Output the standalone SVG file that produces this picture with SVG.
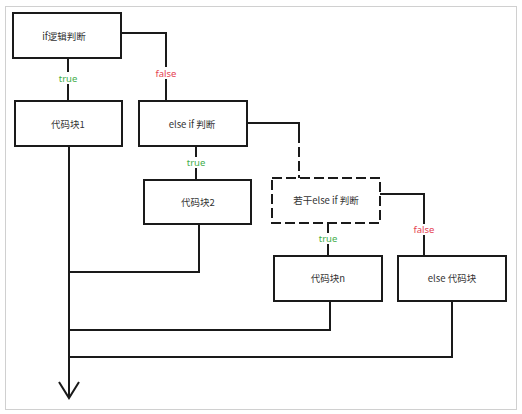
<svg xmlns="http://www.w3.org/2000/svg" width="522" height="414" viewBox="0 0 522 414">
<style>
.box{fill:#fff;stroke:#1a1a1a;stroke-width:2}
.dash{stroke-dasharray:10 4}
.ln{fill:none;stroke:#1a1a1a;stroke-width:2}
.t{font-family:"Noto Sans CJK SC","Noto Sans",sans-serif;font-size:9.5px;fill:#333;text-anchor:middle;dominant-baseline:central}
.tr{font-family:"Noto Sans","Noto Sans CJK SC",sans-serif;font-size:9.5px;fill:#3fae49;text-anchor:middle;dominant-baseline:central}
.fa{font-family:"Noto Sans","Noto Sans CJK SC",sans-serif;font-size:9.5px;fill:#e53e50;text-anchor:middle;dominant-baseline:central}
</style>
<rect x="5.5" y="6.5" width="511" height="403" fill="#fff" stroke="#d0d0d0" stroke-width="1"/>
<g id="connectors">
<path class="ln" d="M68 58V72M68 84V101"/>
<text class="tr" x="68" y="78">true</text>
<path class="ln" d="M121 33H166V67M166 79V101"/>
<text class="fa" x="166" y="73">false</text>
<path class="ln" d="M196 146V157M196 168V180"/>
<text class="tr" x="196" y="162">true</text>
<path class="ln" d="M247 123H299V133"/>
<path class="ln" stroke-dasharray="10 4" d="M299 133V178"/>
<path class="ln" d="M380 194H424V224M424 235V256"/>
<text class="fa" x="424" y="229">false</text>
<path class="ln" d="M328 223V233M328 244V256"/>
<text class="tr" x="328" y="238">true</text>
<path class="ln" d="M69 146V398"/>
<path class="ln" d="M199 224V272H69"/>
<path class="ln" d="M330 301V330H69"/>
<path class="ln" d="M452 301V357H69"/>
<path class="ln" d="M59 382L69 398L79 382"/>
</g>
<g id="n1"><rect class="box" x="13" y="13" width="108" height="45"/><text class="t" x="64" y="36">if逻辑判断</text></g>
<g id="n2"><rect class="box" x="15" y="101" width="107" height="45"/><text class="t" x="68" y="124">代码块1</text></g>
<g id="n3"><rect class="box" x="139" y="101" width="108" height="45"/><text class="t" x="192" y="124">else if 判断</text></g>
<g id="n4"><rect class="box" x="144" y="180" width="107" height="44"/><text class="t" x="198" y="202">代码块2</text></g>
<g id="n5"><rect class="box dash" x="272" y="178" width="108" height="45"/><text class="t" x="326" y="200">若干else if 判断</text></g>
<g id="n6"><rect class="box" x="274" y="256" width="108" height="45"/><text class="t" x="328" y="278">代码块n</text></g>
<g id="n7"><rect class="box" x="398" y="256" width="108" height="45"/><text class="t" x="452" y="278">else 代码块</text></g>
</svg>
